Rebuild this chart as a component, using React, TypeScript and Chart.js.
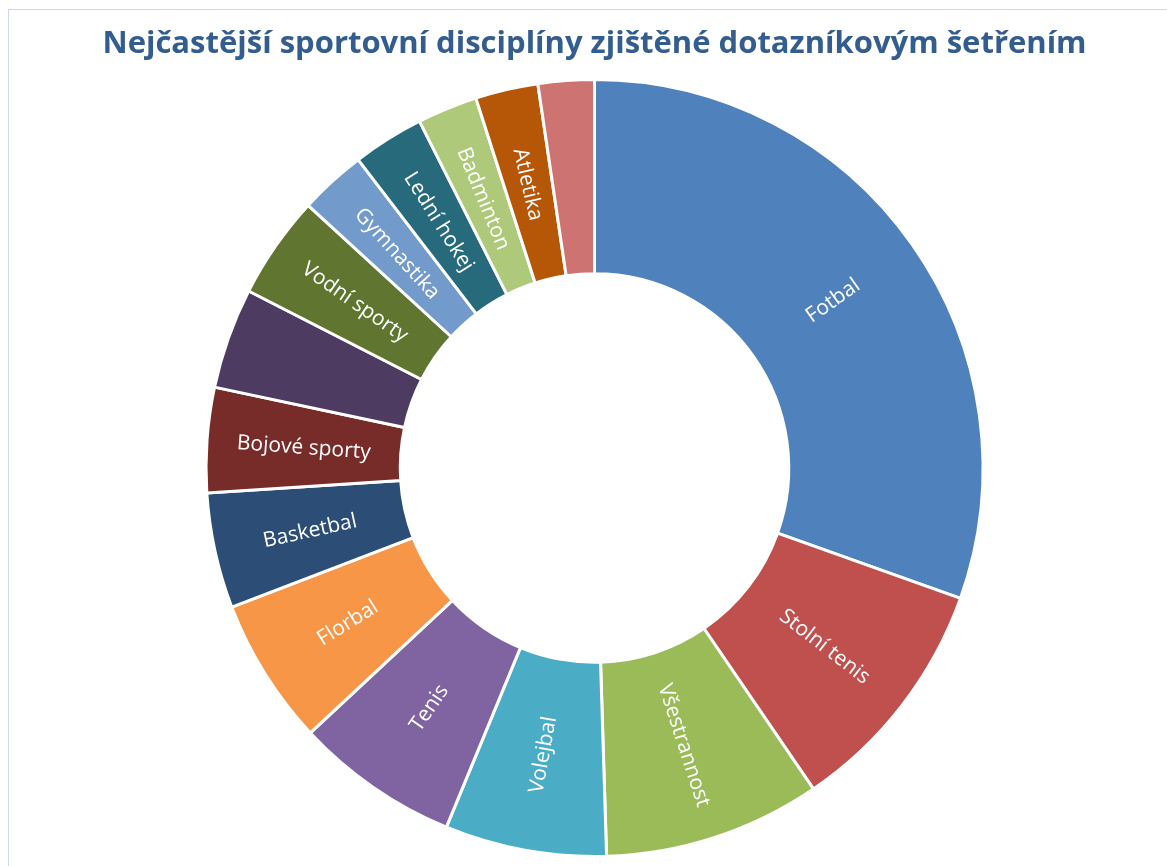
import React, { useEffect, useRef } from 'react';
import { Chart, registerables } from 'chart.js';

Chart.register(...registerables);

const titleText = 'Nejčastější sportovní disciplíny zjištěné dotazníkovým šetřením';

const categories = [
  'Fotbal',
  'Stolní tenis',
  'Všestrannost',
  'Volejbal',
  'Tenis',
  'Florbal',
  'Basketbal',
  'Bojové sporty',
  '',
  'Vodní sporty',
  'Gymnastika',
  'Lední hokej',
  'Badminton',
  'Atletika',
  '',
];

// share of respondents (%)
const values = [30.44, 10.03, 9.03, 6.72, 6.83, 6.11, 4.81, 4.36, 4.19, 4.28, 2.78, 2.97, 2.5, 2.61, 2.33];

const colors = [
  '#4F81BD',
  '#C0504D',
  '#9BBB59',
  '#4BACC6',
  '#8064A2',
  '#F79646',
  '#2C4D75',
  '#772C2A',
  '#4D3B62',
  '#5F7530',
  '#729ACA',
  '#276A7C',
  '#AFC97A',
  '#B65708',
  '#CD7371',
];

const labelFont = '21px "Open Sans"';

const radialLabels = {
  id: 'radialLabels',
  afterDatasetsDraw(chart: any) {
    const meta = chart.getDatasetMeta(0);
    const ctx = chart.ctx;
    const labels = chart.data.labels as string[];
    ctx.save();
    ctx.font = labelFont;
    ctx.fillStyle = '#FFFFFF';
    ctx.textAlign = 'center';
    ctx.textBaseline = 'middle';
    meta.data.forEach((arc: any, i: number) => {
      const text = labels[i];
      if (!text) return;
      const { x, y, startAngle, endAngle, innerRadius, outerRadius } = arc.getProps(
        ['x', 'y', 'startAngle', 'endAngle', 'innerRadius', 'outerRadius'],
        true
      );
      const mid = (startAngle + endAngle) / 2;
      const r = (innerRadius + outerRadius) / 2;
      const px = x + r * Math.cos(mid);
      const py = y + r * Math.sin(mid);
      const rot = Math.cos(mid) >= 0 ? mid : mid + Math.PI;
      ctx.save();
      ctx.translate(px, py);
      ctx.rotate(rot);
      ctx.fillText(text, 0, 1);
      ctx.restore();
    });
    ctx.restore();
  },
};

export default function App() {
  const canvasRef = useRef<HTMLCanvasElement | null>(null);

  useEffect(() => {
    if (!canvasRef.current) return;
    const titleSize = 31;
    const lineH = 1.2;
    const padTop = 25.4;
    const padBottom = 78 - padTop - titleSize * lineH;
    const chart = new Chart(canvasRef.current, {
      type: 'doughnut',
      data: {
        labels: categories,
        datasets: [
          {
            data: values,
            backgroundColor: colors,
            borderColor: '#FFFFFF',
            borderWidth: 3,
          },
        ],
      },
      options: {
        animation: false,
        responsive: false,
        maintainAspectRatio: false,
        cutout: '50%',
        layout: { padding: { left: 22, right: 0, top: 0, bottom: 8 } },
        plugins: {
          legend: { display: false },
          tooltip: { enabled: false },
          title: {
            display: true,
            text: titleText,
            color: '#335D8F',
            font: { family: '"Open Sans"', size: titleSize, weight: 'bold', lineHeight: lineH },
            padding: { top: padTop, bottom: padBottom },
          },
        },
      },
      plugins: [radialLabels],
    });
    return () => chart.destroy();
  }, []);

  return (
    <>
      <div
        style={{
          position: 'absolute',
          left: 8,
          top: 9,
          width: 1159,
          height: 857,
          borderLeft: '1px solid #CCDAEC',
          borderTop: '1px solid #CCDAEC',
          boxSizing: 'border-box',
        }}
      />
      <div style={{ position: 'absolute', left: 0, top: 0, width: 1167, height: 866 }}>
        <canvas ref={canvasRef} width={1167} height={866} style={{ display: 'block' }} />
      </div>
    </>
  );
}
